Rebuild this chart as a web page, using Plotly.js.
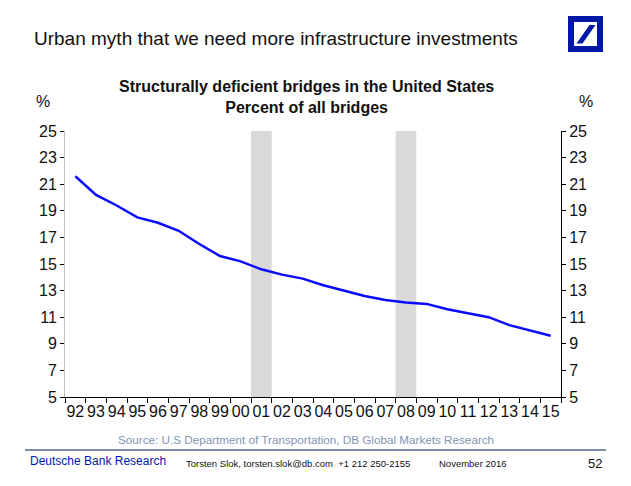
<!DOCTYPE html>
<html>
<head>
<meta charset="utf-8">
<script src="https://cdn.plot.ly/plotly-3.0.1.min.js"></script>
<style>
html,body{margin:0;padding:0;background:#fff;}
#chart{width:631px;height:486px;}
</style>
</head>
<body>
<div id="chart"></div>
<script>
// ---- data ----
var years = [1992,1993,1994,1995,1996,1997,1998,1999,2000,2001,2002,2003,2004,2005,2006,2007,2008,2009,2010,2011,2012,2013,2014,2015];
var yearLabels = ["92","93","94","95","96","97","98","99","00","01","02","03","04","05","06","07","08","09","10","11","12","13","14","15"];
var deficientPct = [21.6,20.2,19.4,18.5,18.1,17.5,16.5,15.6,15.2,14.6,14.2,13.9,13.4,13.0,12.6,12.3,12.1,12.0,11.6,11.3,11.0,10.4,10.0,9.6];
var recessionStart = [2000.5, 2007.5];
var recessionEnd = [2001.5, 2008.5];
var yTicks = [5,7,9,11,13,15,17,19,21,23,25];

// ---- layout helpers (pixel -> paper) ----
var L = 65, R = 561, T = 131, B = 397;
function px(x){ return (x - L) / (R - L); }
function py(y){ return (B - y) / (B - T); }

var font = "Liberation Sans, Arial, sans-serif";

var shapes = [];
for (var i = 0; i < recessionStart.length; i++) {
  shapes.push({type:'rect', xref:'x', yref:'paper', x0:recessionStart[i], x1:recessionEnd[i], y0:0, y1:1,
    fillcolor:'#d9d9d9', line:{width:0}, layer:'below'});
}
// footer rule
shapes.push({type:'line', xref:'paper', yref:'paper', x0:px(25), x1:px(606), y0:py(450), y1:py(450),
  line:{color:'#4a6a8f', width:1.3}});
// logo
shapes.push({type:'rect', xref:'paper', yref:'paper', x0:px(568), x1:px(603), y0:py(52), y1:py(16),
  fillcolor:'#0018a8', line:{width:0}});
shapes.push({type:'rect', xref:'paper', yref:'paper', x0:px(574), x1:px(597), y0:py(46), y1:py(22),
  fillcolor:'#ffffff', line:{width:0}});
shapes.push({type:'path', xref:'paper', yref:'paper',
  path:'M'+px(576.5)+','+py(43.5)+' L'+px(582.5)+','+py(43.5)+' L'+px(595.5)+','+py(25)+' L'+px(589.5)+','+py(25)+' Z',
  fillcolor:'#0018a8', line:{width:0}});

var ann = [
  {text:'Urban myth that we need more infrastructure investments', x:px(32), y:py(38), xanchor:'left', yanchor:'middle',
    font:{family:font, size:19, color:'#111'}},
  {text:'<b>Structurally deficient bridges in the United States</b><br><b>Percent of all bridges</b>', x:px(306), y:py(97), xanchor:'center', yanchor:'middle',
    font:{family:font, size:16, color:'#111'}},
  {text:'%', x:px(43), y:py(101), xanchor:'center', yanchor:'middle', font:{family:font, size:16, color:'#111'}},
  {text:'%', x:px(586), y:py(101), xanchor:'center', yanchor:'middle', font:{family:font, size:16, color:'#111'}},
  {text:'Source: U.S Department of Transportation, DB Global Markets Research', x:px(306), y:py(439), xanchor:'center', yanchor:'middle',
    font:{family:font, size:11.7, color:'#8395b3'}},
  {text:'Deutsche Bank Research', x:px(28), y:py(461), xanchor:'left', yanchor:'middle', font:{family:font, size:12, color:'#0018a8'}},
  {text:'Torsten Slok, torsten.slok@db.com  +1 212 250-2155', x:px(184), y:py(463), xanchor:'left', yanchor:'middle', font:{family:font, size:9.5, color:'#111'}},
  {text:'November 2016', x:px(437), y:py(463), xanchor:'left', yanchor:'middle', font:{family:font, size:9.5, color:'#111'}},
  {text:'52', x:px(604), y:py(463), xanchor:'right', yanchor:'middle', font:{family:font, size:13, color:'#111'}}
];
ann.forEach(function(a){ a.xref='paper'; a.yref='paper'; a.showarrow=false; });

var traces = [
  {x:years, y:deficientPct, type:'scatter', mode:'lines', line:{color:'#0a0aff', width:2.5}, hoverinfo:'x+y', showlegend:false},
  {x:years, y:deficientPct, type:'scatter', mode:'lines', yaxis:'y2', line:{color:'rgba(0,0,0,0)', width:0}, hoverinfo:'skip', showlegend:false}
];

var layout = {
  width:631, height:486,
  margin:{l:L, r:631-R, t:T, b:486-B, pad:0},
  paper_bgcolor:'#fff', plot_bgcolor:'#fff',
  showlegend:false,
  font:{family:font, color:'#111'},
  xaxis:{range:[1991.5, 2015.5], tickmode:'array', tickvals:years, ticktext:yearLabels, ticks:'',
    showline:true, linecolor:'#000', linewidth:1, showgrid:false, zeroline:false,
    tickfont:{family:font, size:16, color:'#111'},
    minor:{tickmode:'linear', tick0:1991.5, dtick:1, ticks:'outside', ticklen:5, tickcolor:'#000', showgrid:false}},
  yaxis:{range:[5,25], tickmode:'array', tickvals:yTicks, ticks:'outside', ticklen:4, tickcolor:'#000',
    showline:true, linecolor:'#c0c0c0', linewidth:1, showgrid:false, zeroline:false,
    tickfont:{family:font, size:16, color:'#111'}},
  yaxis2:{range:[5,25], overlaying:'y', side:'right', tickmode:'array', tickvals:yTicks, ticks:'outside', ticklen:4, tickcolor:'#000',
    showline:true, linecolor:'#000', linewidth:1, showgrid:false, zeroline:false,
    tickfont:{family:font, size:16, color:'#111'}},
  shapes:shapes,
  annotations:ann
};

Plotly.newPlot('chart', traces, layout, {staticPlot:true, displayModeBar:false});
</script>
</body>
</html>
